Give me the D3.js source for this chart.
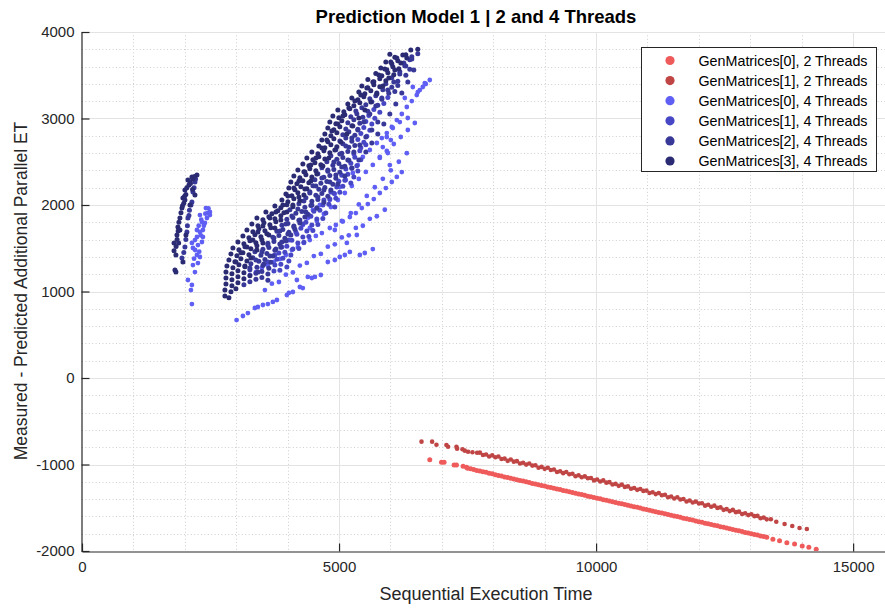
<!DOCTYPE html>
<html>
<head>
<meta charset="utf-8">
<script src="https://cdn.jsdelivr.net/npm/d3@7"></script>
<style>
  body { margin: 0; background: #fff; }
  svg { font-family: Arial, "Liberation Sans", Helvetica, sans-serif; }
</style>
</head>
<body>
<svg id="chart" width="885" height="608"></svg>
<script>
// ---- data ----
const xTicks = [0, 5000, 10000, 15000];
const yTicks = [-2000, -1000, 0, 1000, 2000, 3000, 4000];

const seriesNames = [
  "GenMatrices[0], 2 Threads",
  "GenMatrices[1], 2 Threads",
  "GenMatrices[0], 4 Threads",
  "GenMatrices[1], 4 Threads",
  "GenMatrices[2], 4 Threads",
  "GenMatrices[3], 4 Threads"
];

const gm0_2t = [
  [6765,-944],[6993,-975],[7043,-975],[7238,-1006],[7284,-1006],[7413,-1021],[7479,-1032],
  [7500,-1043],[7560,-1050],[7620,-1058],[7680,-1069],[7740,-1074],[7800,-1085],[7860,-1091],[7920,-1101],
  [7980,-1107],[8040,-1118],[8100,-1126],[8160,-1132],[8220,-1144],[8280,-1150],[8340,-1158],[8400,-1167],
  [8460,-1175],[8520,-1186],[8580,-1191],[8640,-1200],[8700,-1208],[8760,-1219],[8820,-1224],[8880,-1233],
  [8940,-1243],[9000,-1249],[9060,-1259],[9120,-1265],[9180,-1274],[9240,-1284],[9300,-1290],[9360,-1301],
  [9420,-1306],[9480,-1315],[9540,-1324],[9600,-1331],[9660,-1341],[9720,-1347],[9780,-1356],[9840,-1366],
  [9900,-1372],[9960,-1381],[10020,-1389],[10080,-1397],[10140,-1407],[10200,-1413],[10260,-1422],[10320,-1431],
  [10380,-1438],[10440,-1448],[10500,-1454],[10560,-1463],[10620,-1472],[10680,-1479],[10740,-1489],[10800,-1495],
  [10860,-1504],[10920,-1514],[10980,-1520],[11040,-1529],[11100,-1537],[11160,-1545],[11220,-1555],[11280,-1561],
  [11340,-1570],[11400,-1579],[11460,-1586],[11520,-1596],[11580,-1602],[11640,-1611],[11700,-1620],[11760,-1627],
  [11820,-1637],[11880,-1643],[11940,-1652],[12000,-1662],[12060,-1668],[12120,-1678],[12180,-1684],[12240,-1693],
  [12300,-1703],[12360,-1709],[12420,-1719],[12480,-1725],[12540,-1734],[12600,-1744],[12660,-1750],[12720,-1760],
  [12780,-1767],[12840,-1775],[12900,-1785],[12960,-1791],[13020,-1801],[13080,-1808],[13140,-1816],[13200,-1826],
  [13260,-1832],[13320,-1842],
  [13439,-1865],[13569,-1881],[13711,-1904],[13861,-1919],[14010,-1942],[14139,-1957],[14282,-1980]
];

const gm1_2t = [
  [6604,-736],[6810,-736],[6895,-771],[7089,-775],[7121,-794],[7284,-794],[7296,-817],[7401,-824],
  [7446,-840],[7510,-852],[7595,-859],[7685,-864],
  [7740,-863],[7800,-890],[7860,-884],[7920,-908],[7980,-894],[8040,-916],[8100,-908],[8160,-936],
  [8220,-932],[8280,-958],[8340,-943],[8400,-967],[8460,-961],[8520,-989],[8580,-979],[8640,-1001],
  [8700,-989],[8760,-1013],[8820,-1009],[8880,-1038],[8940,-1028],[9000,-1050],[9060,-1038],[9120,-1064],
  [9180,-1058],[9240,-1086],[9300,-1078],[9360,-1100],[9420,-1087],[9480,-1113],[9540,-1107],[9600,-1135],
  [9660,-1125],[9720,-1147],[9780,-1137],[9840,-1159],[9900,-1156],[9960,-1184],[10020,-1174],[10080,-1196],
  [10140,-1184],[10200,-1210],[10260,-1204],[10320,-1232],[10380,-1224],[10440,-1247],[10500,-1233],[10560,-1259],
  [10620,-1253],[10680,-1281],[10740,-1271],[10800,-1293],[10860,-1283],[10920,-1305],[10980,-1302],[11040,-1330],
  [11100,-1320],[11160,-1342],[11220,-1330],[11280,-1356],[11340,-1350],[11400,-1378],[11460,-1370],[11520,-1393],
  [11580,-1379],[11640,-1405],[11700,-1399],[11760,-1427],[11820,-1417],[11880,-1439],[11940,-1429],[12000,-1451],
  [12060,-1448],[12120,-1476],[12180,-1466],[12240,-1488],[12300,-1476],[12360,-1502],[12420,-1496],[12480,-1524],
  [12540,-1516],[12600,-1539],[12660,-1525],[12720,-1551],[12780,-1545],[12840,-1573],[12900,-1563],[12960,-1585],
  [13020,-1575],[13080,-1597],[13140,-1594],[13200,-1622],[13260,-1612],[13320,-1634],[13400,-1633],
  [13505,-1661],[13667,-1688],[13816,-1711],[13958,-1734],[14100,-1746]
];

const gm0_4t = [
  // left cluster
  [2138,855],[2119,1017],[2138,1075],[2061,1133],[2197,1225],[2158,1306],[2255,1329],[2236,1422],[2294,1399],
  [2158,1503],[2255,1537],[2138,1561],[2333,1572],[2236,1630],[2294,1688],[2352,1711],[2391,1792],[2333,1803],
  [2430,1850],[2449,1907],[2488,1919],[2410,1965],[2488,1884],[2294,1884],[2352,1630],[2197,1595],[2236,1711],
  [2270,1760],[2370,1760],[2310,1650],[2200,1480],[2180,1380],[2280,1460],[2400,1900],[2460,1960],[2320,1830],
  // lowest streak
  [3007,670],[3130,717],[3227,751],[3363,809],[3421,821],[3519,844],[3616,855],[3713,879],[3791,902],
  [3985,959],[4024,983],[4102,994],[4180,1133],[4238,1052],[4296,1040],[4393,1168],[4471,1156],[4530,1168],
  [4646,1191],[4782,1341],[4918,1364],[5015,1399],[5113,1422],[5210,1457],[5404,1422],[5501,1445],[5657,1491],
  [5152,1561],[5346,1653],
  // second streak
  [3558,1017],[3694,1090],[3830,1110],[3966,1195],[4102,1220],[4238,1300],[4374,1330],[4510,1410],[4646,1435],
  [4782,1518],[4918,1545],[5054,1625],[5190,1650],[5327,1735],[5463,1760],[5599,1840],[5735,1870],[5890,1945],
  // third streak
  [3266,1191],[3383,1225],[3499,1272],[3616,1295],[3733,1341],[3849,1376],[3966,1422],[4082,1480],[4199,1514],
  [4316,1561],[4432,1595],[4549,1642],[4666,1676],[4821,1734],[4938,1769],[5054,1815],[5210,1861],[5327,1907],
  [5443,1965],[5560,2011],[5676,2069],[5793,2139],[5910,2196],[6026,2266],[6124,2324],[6221,2381],
  // upper streaks
  [4432,1734],[4568,1815],[4705,1896],[4841,1977],[4977,2058],[5113,2139],[5249,2220],[5385,2301],
  [5521,2382],[5657,2463],[5793,2544],[5929,2624],[6065,2705],[6201,2786],[6338,2867],[6474,2948],
  [4918,1711],[5074,1809],[5229,1907],[5385,2007],[5540,2105],[5696,2205],[5852,2303],[6007,2401],
  [6163,2500],[6318,2599],
  [4296,1769],[4491,1942],[4821,2058],[5015,2208],[5268,2370],[5463,2555],[5735,2717],[5929,2832],
  [6124,2982],[6318,3133],[6512,3271],[6629,3364],[6765,3445],
  [4393,1850],[4627,2000],[4918,2127],[5132,2289],[5365,2462],[5599,2636],[5832,2774],[6026,2902],
  [6221,3052],[6415,3202],[6571,3329],[6687,3399],
  [6182,2959],[6337,3006],[6046,2890],[6007,2751],[5929,2786],[5851,2670],[5949,2601],[5793,2555],
  [5988,2462],[6279,3237],[6435,3364],[6532,3306],[6668,3410]
];

const gm1_4t = [
  [5949,3242],[5871,3173],[5677,3103],[5793,3073],[5579,3034],[5696,3004],[5521,2965],[5638,2935],
  [5482,2895],[5599,2865],[5424,2826],[5540,2796],[5366,2756],[5482,2726],[5424,2662],[5521,2697],
  [5288,2593],[5404,2628],[5307,2553],[5424,2523],[5229,2484],[5346,2454],[5132,2415],[5249,2425],
  [5366,2393],[5054,2345],[5171,2355],[5288,2323],[4996,2276],[5113,2286],[5229,2254],[4957,2207],
  [5074,2217],[4899,2137],[5016,2147],[4821,2068],[4938,2078],[4685,1999],[4802,2009],[4918,1977],
  [4510,1929],[4627,1939],[4743,1907],[4452,1870],[4568,1838],[4685,1845],[4355,1801],[4471,1769],
  [4588,1776],[4257,1731],[4374,1699],[4491,1706],[4180,1662],[4296,1630],[4413,1637],[4082,1593],
  [4199,1561],[4316,1568],[3985,1523],[4102,1491],[4219,1498],[3830,1444],[3946,1454],[4063,1422],
  [3791,1374],[3907,1384],[4024,1352],[3752,1305],[3868,1315],[3985,1283],[3733,1236],[3849,1246],
  // steep streak, lower part
  [3616,1341],[3752,1422],[3888,1515],[4024,1596],[4160,1688],[4296,1781],[4432,1873],[4568,1965],
  [4705,2058],[4841,2150]
];

const gm2_4t = [
  // left cluster
  [1944,1387],[2002,1514],[2041,1688],[2061,1850],[2138,2035],[2158,2150],[2197,2266],[1980,1450],
  [2020,1600],[2050,1760],[2090,1940],[2120,2000],[2180,2200],[2210,2300],[2080,1880],
  // main cloud
  [6415,3713],[6532,3748],[6260,3643],[6376,3678],[6279,3609],[6376,3569],[6182,3540],[6299,3500],
  [6026,3470],[6143,3430],[5910,3401],[6026,3361],[6143,3381],[5852,3331],[5968,3291],[6085,3311],
  [5599,3227],[5715,3262],[5832,3222],[5521,3158],[5638,3193],[5754,3153],[5327,3088],[5443,3123],
  [5560,3083],[5229,3019],[5346,3054],[5463,3014],[5171,2950],[5288,2985],[5404,2945],[5132,2880],
  [5249,2915],[5366,2875],[5074,2811],[5191,2846],[5307,2806],[5016,2741],[5132,2776],[5249,2736],
  [5074,2707],[5191,2667],[5307,2687],[4938,2638],[5054,2598],[5171,2618],[4841,2568],[4957,2528],
  [5074,2548],[5191,2518],[4763,2499],[4880,2459],[4996,2479],[5113,2449],[4666,2430],[4782,2390],
  [4899,2410],[5016,2380],[4588,2360],[4705,2320],[4821,2340],[4938,2310],[4530,2291],[4646,2251],
  [4763,2271],[4880,2241],[4491,2222],[4607,2182],[4724,2202],[4841,2172],[4432,2152],[4549,2112],
  [4666,2132],[4782,2102],[4355,2083],[4471,2043],[4588,2063],[4705,2033],[4219,2014],[4335,1974],
  [4452,1994],[4568,1964],[4044,1944],[4160,1904],[4277,1924],[4394,1894],[3985,1835],[4102,1855],
  [4219,1825],[4335,1860],[3888,1766],[4005,1786],[4121,1756],[4238,1791],[3791,1696],[3907,1716],
  [4024,1686],[4141,1721],[3713,1627],[3830,1647],[3946,1617],[4063,1652],[3616,1558],[3733,1578],
  [3849,1548],[3966,1583],[3519,1488],[3635,1508],[3752,1478],[3868,1513],[3363,1459],[3480,1419],
  [3596,1439],[3713,1409],[3324,1389],[3441,1349],[3558,1369],[3674,1339],[3285,1320],[3402,1280],
  [3519,1300],[3635,1270],[3266,1251],[3383,1211],[3499,1231],[3616,1201],[3383,1141],[3499,1161],
  [3616,1131],[3149,1077],[3266,1112],
  // steep streaks
  [3266,1272],[3383,1364],[3499,1457],[3616,1538],[3733,1619],[3849,1700],[3966,1781],[4082,1873],
  [4199,1954],[4316,2046],[4432,2139],[4549,2220],[4666,2312],[4782,2405],[4899,2497],[5016,2590],
  [5132,2682],[5249,2775],[5366,2867],[5482,2960],[5599,3052],[5715,3145],[5832,3237],[5949,3330],
  [6065,3422],[6182,3515],[6299,3607],[6415,3688],
  [4977,2243],[5113,2335],[5249,2428],[5385,2520],[5521,2613],[5638,2717],[5754,2821],[5871,2936],
  [5988,3052],[6104,3167],[6221,3294],[6338,3422],[6454,3561],
  [3422,1226],[3538,1318],[3655,1411],[3771,1492],[3888,1572],[4005,1665],[4121,1746],[4238,1827],
  [4355,1919],[4471,2000],[4588,2093],[4705,2174],[4821,2266],[4938,2347],[5054,2439],[5171,2520],
  [5288,2613],[5404,2694],[5521,2786],[5638,2867],[5754,2960]
];

const gm3_4t = [
  // left cluster
  [1808,1248],[1827,1225],[1790,1560],[1847,1653],[1866,1746],[1905,1850],[1944,1965],[1963,2081],
  [2002,2173],[2061,2289],[2138,2324],[2236,2347],[1885,1800],[1925,1910],[1980,2020],[2020,2120],
  [2080,2230],[2100,2270],[2160,2300],[1870,1700],[1850,1600],[1830,1520],[1955,1990],[1995,2100],
  [2040,2200],[2110,2250],[2190,2330],
  [2002,2058],[2100,2000],[2197,2116],[1905,1711],[2022,1653],[1827,1422],[1963,1341],[1790,1470],
  [1880,1560],[2150,2180],
  // main cloud
  [6396,3792],[6532,3800],[5988,3743],[6085,3708],[6299,3738],[5910,3653],[6026,3633],[6143,3668],
  [5813,3584],[5929,3564],[6046,3599],[6163,3574],[5715,3520],[5832,3495],[5949,3530],[6065,3505],
  [5560,3450],[5677,3425],[5793,3460],[5910,3435],[5443,3376],[5560,3356],[5677,3391],[5793,3366],
  [5385,3306],[5502,3286],[5618,3321],[5735,3296],[5249,3237],[5366,3217],[5482,3252],[5171,3168],
  [5288,3148],[5404,3183],[4977,3098],[5093,3078],[5210,3113],[4880,3029],[4996,3009],[5113,3044],
  [4821,2960],[4938,2940],[5054,2975],[4782,2890],[4899,2870],[5016,2905],[4724,2821],[4841,2801],
  [4957,2836],[4666,2751],[4782,2731],[4899,2766],[4607,2682],[4724,2662],[4841,2697],[4957,2672],
  [4471,2613],[4588,2593],[4705,2628],[4821,2603],[4374,2543],[4491,2523],[4607,2558],[4724,2533],
  [4296,2474],[4413,2454],[4530,2489],[4646,2464],[4199,2405],[4316,2385],[4432,2420],[4549,2395],
  [4121,2335],[4238,2315],[4355,2350],[4471,2325],[4063,2266],[4180,2246],[4296,2281],[4413,2256],
  [4024,2197],[4141,2177],[4257,2212],[4374,2187],[3966,2127],[4082,2107],[4199,2142],[4316,2117],
  [3888,2058],[4005,2038],[4121,2073],[4238,2048],[3752,1989],[3868,1969],[3985,2004],[4102,1979],
  [3577,1919],[3694,1899],[3810,1934],[3927,1909],[3402,1850],[3519,1830],[3635,1865],[3752,1840],
  [3868,1875],[3305,1781],[3422,1761],[3538,1796],[3655,1771],[3771,1806],[3208,1711],[3324,1691],
  [3441,1726],[3558,1701],[3674,1736],[3130,1642],[3247,1622],[3363,1657],[3480,1632],[3596,1667],
  [3033,1573],[3149,1553],[3266,1588],[3383,1563],[3499,1598],[2936,1503],[3052,1483],[3169,1518],
  [3285,1493],[3402,1528],[2897,1434],[3013,1414],[3130,1449],[3247,1424],[2858,1364],[2974,1344],
  [3091,1379],[3208,1354],[2819,1295],[2936,1275],[3052,1310],[3169,1285],[2800,1226],[2916,1206],
  [3033,1241],[3149,1216],[2800,1156],[2916,1136],[3033,1171],[3149,1146],[3266,1181],[2800,1087],
  [2916,1067],[3033,1102],[2780,1017],[2897,997],[2994,1032],[2780,948],[2858,928],
  // steep streaks
  [2994,1341],[3091,1448],[3208,1514],[3324,1596],[3422,1688],[3519,1757],[3655,1850],[3771,1919],
  [3907,2000],[4005,2104],[4121,2197],[4219,2278],[4335,2382],[4452,2463],[4549,2543],[4666,2659],
  [4763,2752],[4860,2856],[4977,2937],[5074,3029],[5191,3122],[5307,3202],[5424,3272],[5540,3353],
  [5657,3422],[5774,3503],[5890,3573],[6007,3653],[6124,3700],[6240,3734],
  [3169,1295],[3285,1388],[3402,1480],[3519,1561],[3635,1653],[3752,1734],[3868,1827],[3985,1919],
  [4102,2000],[4219,2093],[4335,2185],[4452,2278],[4568,2359],[4685,2451],[4802,2543],[4918,2636],
  [5035,2728],[5152,2821],[5268,2913],[5385,3006],[5502,3098],[5618,3191],[5735,3283],[5852,3376],
  [5968,3468],[6085,3561],[6201,3642],[6318,3700]
];

const seriesColors = ["#ef5b5b", "#c04545", "#5f5ff4", "#4747c6", "#383898", "#2b2b74"];
const seriesData = [gm0_2t, gm1_2t, gm0_4t, gm1_4t, gm2_4t, gm3_4t];
const seriesRadius = [2.5, 2.3, 2.4, 2.5, 2.5, 2.5];

// ---- layout ----
const plot = { left: 82, top: 32, right: 885, bottom: 551 };

const svg = d3.select("#chart");

const x = d3.scaleLinear().domain([0, 15620]).range([plot.left, plot.right]);
const y = d3.scaleLinear().domain([-2000, 4000]).range([plot.bottom, plot.top]);

svg.append("defs").append("clipPath").attr("id", "plotclip")
  .append("rect")
  .attr("x", plot.left).attr("y", plot.top)
  .attr("width", plot.right - plot.left).attr("height", plot.bottom - plot.top);

// Grid
const grid = svg.append("g");
const minorX = d3.range(1000, 15620, 1000).filter(v => v % 5000 !== 0);
const minorY = d3.range(-1800, 4000, 200).filter(v => v % 1000 !== 0);

grid.selectAll(".minx").data(minorX).join("line")
  .attr("x1", d => Math.round(x(d)) + 0.5).attr("x2", d => Math.round(x(d)) + 0.5)
  .attr("y1", plot.top).attr("y2", plot.bottom)
  .attr("stroke", "#cfcfcf").attr("stroke-dasharray", "1,2.4");

grid.selectAll(".miny").data(minorY).join("line")
  .attr("y1", d => Math.round(y(d)) + 0.5).attr("y2", d => Math.round(y(d)) + 0.5)
  .attr("x1", plot.left).attr("x2", plot.right)
  .attr("stroke", "#cfcfcf").attr("stroke-dasharray", "1,2.4");

grid.selectAll(".majx").data(xTicks.filter(v => v > 0)).join("line")
  .attr("x1", d => Math.round(x(d)) + 0.5).attr("x2", d => Math.round(x(d)) + 0.5)
  .attr("y1", plot.top).attr("y2", plot.bottom)
  .attr("stroke", "#e3e3e3");

grid.selectAll(".majy").data(yTicks.filter(v => v > -2000)).join("line")
  .attr("y1", d => Math.round(y(d)) + 0.5).attr("y2", d => Math.round(y(d)) + 0.5)
  .attr("x1", plot.left).attr("x2", plot.right)
  .attr("stroke", "#e3e3e3");

// Points
const pts = svg.append("g").attr("clip-path", "url(#plotclip)");
seriesData.forEach((data, i) => {
  pts.append("g")
    .selectAll("circle")
    .data(data)
    .join("circle")
    .attr("cx", d => x(d[0]))
    .attr("cy", d => y(d[1]))
    .attr("r", seriesRadius[i])
    .attr("fill", seriesColors[i]);
});

// Axes
const xAxis = d3.axisBottom(x).tickValues(xTicks).tickFormat(d => String(d))
  .tickSizeInner(-8).tickSizeOuter(0).tickPadding(10);
const yAxis = d3.axisLeft(y).tickValues(yTicks).tickFormat(d => String(d))
  .tickSizeInner(-8).tickSizeOuter(0).tickPadding(7);

const gx = svg.append("g").attr("transform", `translate(0,${plot.bottom + 0.5})`).call(xAxis);
const gy = svg.append("g").attr("transform", `translate(${plot.left - 0.5},0)`).call(yAxis);

[gx, gy].forEach(g => {
  g.select(".domain").attr("stroke", "#262626").attr("stroke-width", 1.2);
  g.selectAll(".tick line").attr("stroke", "#262626").attr("stroke-width", 1.2);
  g.selectAll(".tick text").attr("fill", "#262626")
    .style("font-size", "15px").style("font-family", "Arial, 'Liberation Sans', sans-serif");
});

// Title and labels
svg.append("text")
  .attr("x", 476).attr("y", 23)
  .attr("text-anchor", "middle")
  .style("font-size", "18.5px").style("font-weight", "bold")
  .attr("fill", "#000")
  .text("Prediction Model 1 | 2 and 4 Threads");

svg.append("text")
  .attr("x", 486).attr("y", 600)
  .attr("text-anchor", "middle")
  .style("font-size", "18px")
  .attr("fill", "#262626")
  .text("Sequential Execution Time");

svg.append("text")
  .attr("transform", "translate(27,291) rotate(-90)")
  .attr("text-anchor", "middle")
  .style("font-size", "17.5px")
  .attr("fill", "#262626")
  .text("Measured - Predicted Additional Parallel ET");

// Legend
const legend = svg.append("g").attr("transform", "translate(641.5,47.5)");
legend.append("rect")
  .attr("width", 235).attr("height", 124)
  .attr("fill", "#fff").attr("stroke", "#262626").attr("stroke-width", 1);

const items = legend.selectAll(".item").data(seriesNames).join("g")
  .attr("transform", (d, i) => `translate(0,${13 + i * 20.1})`);
items.append("circle").attr("cx", 28.5).attr("cy", 0).attr("r", 4.6)
  .attr("fill", (d, i) => seriesColors[i]);
items.append("text").attr("x", 57).attr("y", 5)
  .style("font-size", "14.3px").attr("fill", "#000")
  .text(d => d);
</script>
</body>
</html>
